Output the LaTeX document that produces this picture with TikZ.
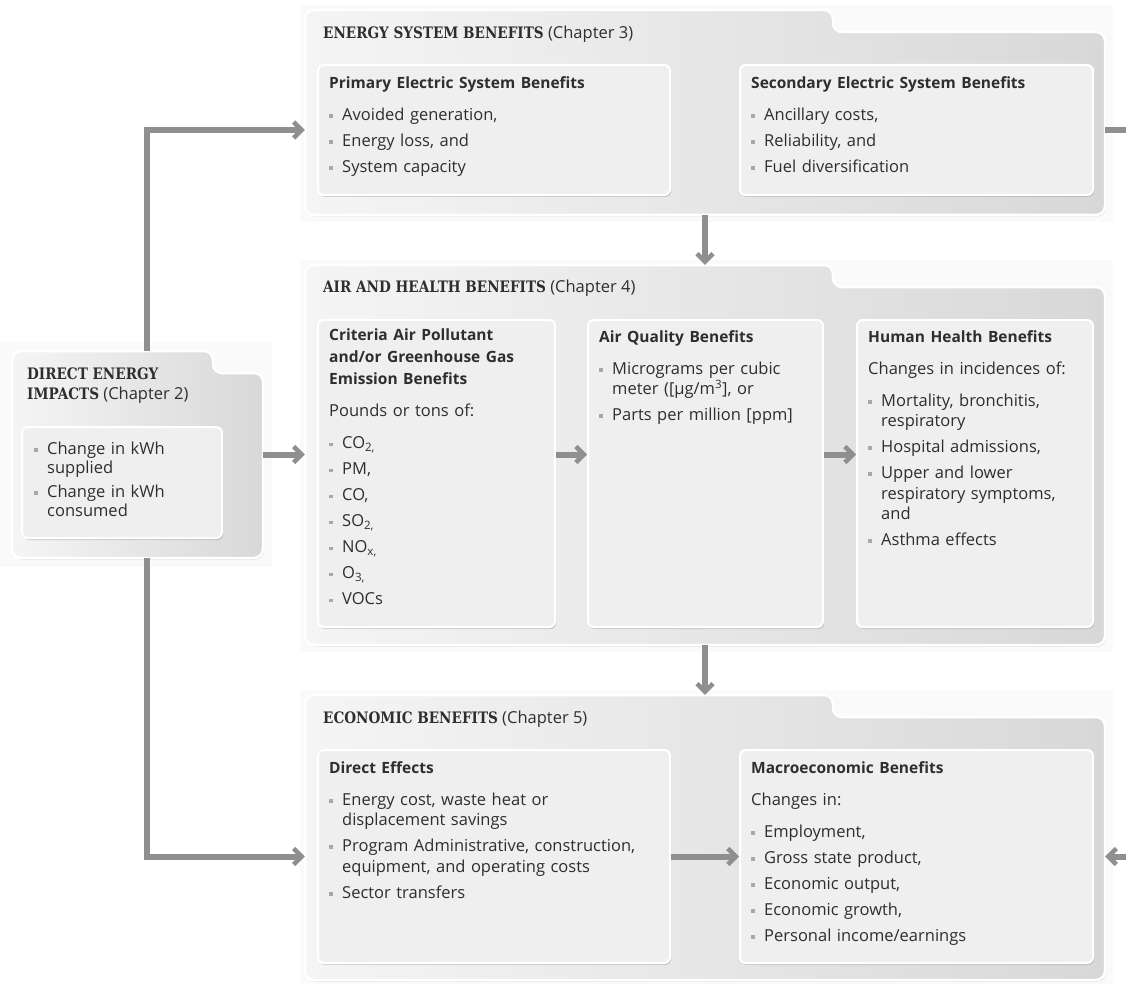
\documentclass[tikz,border=0pt]{standalone}
\usepackage{fontspec}
\setmainfont{Open Sans}
\newfontfamily\hdrfont[FakeStretch=0.86]{DejaVu Serif}
\usetikzlibrary{arrows.meta,shadows,fit,calc}
\definecolor{conncol}{HTML}{8F8F8F}
\definecolor{txtcol}{HTML}{2E2E2E}
\definecolor{boxfill}{HTML}{EFEFEF}
\definecolor{panL}{HTML}{F5F5F5}
\definecolor{panR}{HTML}{D8D8D8}
\definecolor{bulcol}{HTML}{A8A8A8}
\newcommand\bpt[1]{\par\hangindent=13pt\hangafter=1\noindent\makebox[13pt][l]{\textcolor{bulcol}{\rule[2.5pt]{3.8pt}{3.8pt}}}#1\par\vspace{5.5pt}}
\newcommand\btitle[1]{{\fontsize{15.5}{22}\selectfont\bfseries #1\par}\vspace{11.5pt}}
\newcommand\bintro[1]{#1\par\vspace{11.5pt}}
\newcommand\hdrcaps[1]{{\hdrfont\bfseries\fontsize{15.8}{20}\selectfont #1}}
\tikzset{
 panel/.style={draw=white, line width=2.5pt, rounded corners=9pt, left color=panL, right color=panR,
   drop shadow={shadow xshift=1pt, shadow yshift=-1.5pt, opacity=0.28}},
 halo/.style={fill=black!2},
 ibox/.style={draw=white, line width=2pt, rounded corners=6pt, fill=boxfill, inner sep=0pt,
   drop shadow={shadow xshift=1.2pt, shadow yshift=-2pt, opacity=0.3}},
 pmark/.style={inner sep=0pt, draw=none},
 txt/.style={anchor=north west, inner sep=0pt, align=left, text width=#1, text=txtcol,
   font=\fontsize{16.5}{20.5}\selectfont},
 hdr/.style={inner sep=0pt, align=left, text=txtcol, font=\fontsize{16.5}{20}\selectfont},
 conn/.style={draw=conncol, line width=6pt, -{Straight Barb[length=8pt,width=16pt,line width=4.5pt]}},
 connline/.style={draw=conncol, line width=6pt},
}
\begin{document}
\begin{tikzpicture}[x=1pt,y=-1pt]
\useasboundingbox (0,0) rectangle (1126,984);
% faint backdrops
\fill[halo] (0,342) rectangle (272,567);
\fill[halo] (300,5) rectangle (1113,222);
\fill[halo] (300,260) rectangle (1113,652);
\fill[halo] (300,690) rectangle (1113,984);
% panels (folder shapes)
\path[panel] (305,215) -- (305,10) -- (833,10) -- (833,32) -- (1105,32) -- (1105,215) -- cycle;
\path[panel] (305,645) -- (305,265) -- (833,265) -- (833,287) -- (1105,287) -- (1105,645) -- cycle;
\path[panel] (305,980) -- (305,695) -- (833,695) -- (833,717) -- (1105,717) -- (1105,980) -- cycle;
\path[panel] (12,558) -- (12,351) -- (213,351) -- (213,373) -- (263,373) -- (263,558) -- cycle;
\node[pmark, fit={(305,10) (1105,215)}] (esb) {};
\node[pmark, fit={(305,265) (1105,645)}] (ahb) {};
\node[pmark, fit={(305,695) (1105,980)}] (ecb) {};
\node[pmark, fit={(12,351) (263,558)}] (dei) {};
% panel headers
\node[hdr, anchor=west] (esbH) at (323,34) {\hdrcaps{ENERGY SYSTEM BENEFITS} (Chapter 3)};
\node[hdr, anchor=west] (ahbH) at (323,288) {\hdrcaps{AIR AND HEALTH BENEFITS} (Chapter 4)};
\node[hdr, anchor=west] (ecbH) at (323,719) {\hdrcaps{ECONOMIC BENEFITS} (Chapter 5)};
\node[hdr, anchor=north west] (deiH) at (27,368) {\hdrcaps{DIRECT ENERGY}\\\hdrcaps{IMPACTS} (Chapter 2)};
% inner boxes
\node[ibox, fit={(318,65) (670,195)}] (pes) {};
\node[ibox, fit={(740,65) (1093,195)}] (ses) {};
\node[ibox, fit={(318,320) (555,627)}] (crit) {};
\node[ibox, fit={(588,320) (823,627)}] (aq) {};
\node[ibox, fit={(857,320) (1093,627)}] (hh) {};
\node[ibox, fit={(318,750) (670,963)}] (de) {};
\node[ibox, fit={(740,750) (1093,963)}] (mac) {};
\node[ibox, fit={(22,427) (222,538)}] (dbox) {};
% texts
\node[txt=328pt] (pesT) at ([xshift=12pt,yshift=-12pt]pes.north west) {%
 \btitle{Primary Electric System Benefits}
 \bpt{Avoided generation,}\bpt{Energy loss, and}\bpt{System capacity}};
\node[txt=329pt] (sesT) at ([xshift=12pt,yshift=-12pt]ses.north west) {%
 \btitle{Secondary Electric System Benefits}
 \bpt{Ancillary costs,}\bpt{Reliability, and}\bpt{Fuel diversification}};
\node[txt=220pt] (critT) at ([xshift=12pt,yshift=-10pt]crit.north west) {%
 \btitle{Criteria Air Pollutant\newline and/or Greenhouse Gas\newline Emission Benefits}
 \bintro{Pounds or tons of:}
 \bpt{CO\textsubscript{2,}}\bpt{PM,}\bpt{CO,}\bpt{SO\textsubscript{2,}}\bpt{NO\textsubscript{x,}}\bpt{O\textsubscript{3,}}\bpt{VOCs}};
\node[txt=220pt] (aqT) at ([xshift=12pt,yshift=-11pt]aq.north west) {%
 \btitle{Air Quality Benefits}
 \bpt{Micrograms per cubic\newline meter ([µg/m\textsuperscript{3}], or}\bpt{Parts per million [ppm]}};
\node[txt=220pt] (hhT) at ([xshift=12pt,yshift=-11pt]hh.north west) {%
 \btitle{Human Health Benefits}
 \bintro{Changes in incidences of:}
 \bpt{Mortality, bronchitis,\newline respiratory}\bpt{Hospital admissions,}\bpt{Upper and lower\newline respiratory symptoms,\newline and}\bpt{Asthma effects}};
\node[txt=328pt] (deT) at ([xshift=12pt,yshift=-12pt]de.north west) {%
 \btitle{Direct Effects}
 \bpt{Energy cost, waste heat or\newline displacement savings}\bpt{Program Administrative, construction,\newline equipment, and operating costs}\bpt{Sector transfers}};
\node[txt=329pt] (macT) at ([xshift=12pt,yshift=-12pt]mac.north west) {%
 \btitle{Macroeconomic Benefits}
 \bintro{Changes in:}
 \bpt{Employment,}\bpt{Gross state product,}\bpt{Economic output,}\bpt{Economic growth,}\bpt{Personal income/earnings}};
\node[txt=185pt, font=\fontsize{16.5}{19}\selectfont] (dboxT) at ([xshift=13pt,yshift=-9pt]dbox.north west) {%
 \bpt{Change in kWh\newline supplied}\bpt{Change in kWh\newline consumed}};
% connectors
\coordinate (rtop) at (1126,130);
\coordinate (rbot) at (1126,856.5);
\draw[conn] ([xshift=9.5pt]dei.north) |- (esb.west |- pes.west);
\draw[conn] ([xshift=9.5pt]dei.south) |- (ecb.west |- de.west);
\draw[conn] (dei.east) -- (ahb.west |- dei.east);
\draw[conn] (esb.south) -- (ahb.north);
\draw[conn] (ahb.south) -- (ecb.north);
\draw[conn] (crit.east |- dei.east) -- (aq.west |- dei.east);
\draw[conn] (aq.east |- dei.east) -- (hh.west |- dei.east);
\draw[conn] (de.east) -- (mac.west);
\draw[connline] (esb.east |- rtop) -- (rtop);
\draw[conn] (rbot) -- (ecb.east |- rbot);
\end{tikzpicture}
\end{document}
